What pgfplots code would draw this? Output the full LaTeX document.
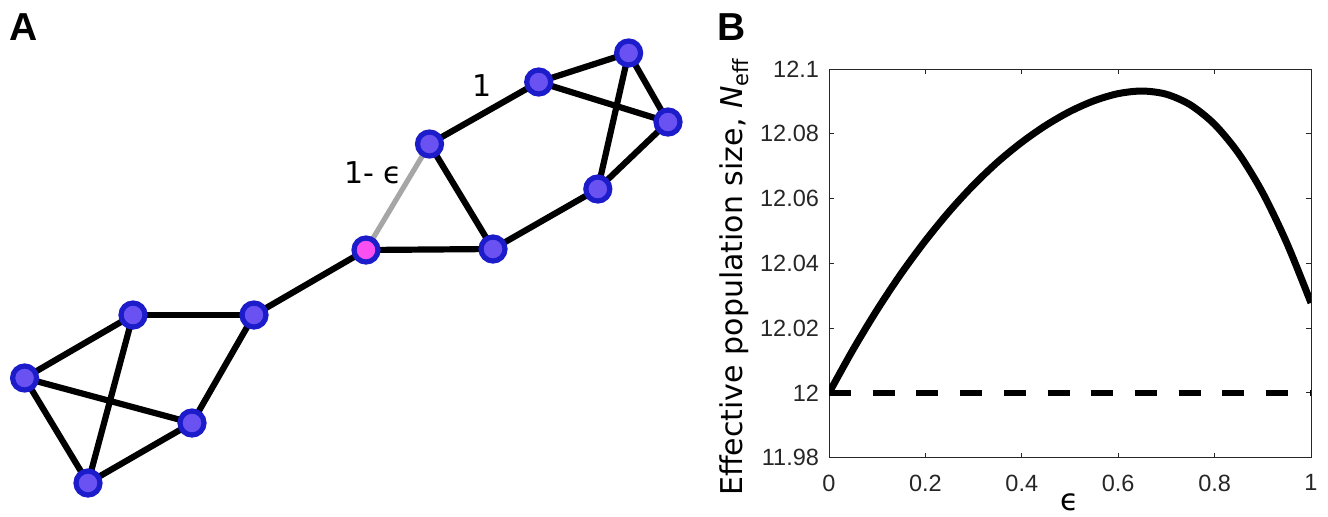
\documentclass[border=0pt]{standalone}
\usepackage{fontspec}
\setmainfont{DejaVu Sans}
\newfontfamily\tickfont{Liberation Sans}
\newfontfamily\labfont{Liberation Sans}
\usepackage{pgfplots}
\pgfplotsset{compat=1.18}
\definecolor{nodeblue}{HTML}{6A52F2}
\definecolor{nodeedge}{HTML}{1C1CCB}
\definecolor{nodemag}{HTML}{FA50F2}
\definecolor{axgray}{HTML}{262626}
\definecolor{edgegray}{HTML}{A6A6A6}
\begin{document}
\begin{tikzpicture}
\useasboundingbox (0,0) rectangle (664pt,258pt);
% ---------------- Panel A : network ----------------
\begin{axis}[at={(0pt,0pt)}, anchor=south west, scale only axis,
  width=664pt, height=258pt, xmin=0, xmax=1328, ymin=0, ymax=516,
  y dir=reverse, hide axis, clip=false]
\pgfplotsset{edge/.style={black, line width=3.1pt, forget plot}}
\addplot[edge] coordinates {(24.6,378) (133,315)};
\addplot[edge] coordinates {(24.6,378) (192,423)};
\addplot[edge] coordinates {(24.6,378) (88,483)};
\addplot[edge] coordinates {(88,483) (133,315)};
\addplot[edge] coordinates {(88,483) (192,423)};
\addplot[edge] coordinates {(133,315) (254,315)};
\addplot[edge] coordinates {(192,423) (254,315)};
\addplot[edge] coordinates {(254,315) (366,250)};
\addplot[edgegray, line width=2.6pt] coordinates {(366,250) (429.5,144)};
\addplot[edge] coordinates {(366,250) (493,249)};
\addplot[edge] coordinates {(429.5,144) (493,249)};
\addplot[edge] coordinates {(429.5,144) (538.7,82)};
\addplot[edge] coordinates {(493,249) (597.8,189)};
\addplot[edge] coordinates {(538.7,82) (628.6,53)};
\addplot[edge] coordinates {(538.7,82) (668,122)};
\addplot[edge] coordinates {(628.6,53) (668,122)};
\addplot[edge] coordinates {(628.6,53) (597.8,189)};
\addplot[edge] coordinates {(668,122) (597.8,189)};
\addplot[only marks, mark=*, mark size=6pt,
  mark options={draw=nodeedge, fill=nodeblue, line width=2.6pt}] coordinates {
  (24.6,378) (88,483) (133,315) (192,423) (254,315)
  (429.5,144) (493,249) (538.7,82) (597.8,189) (628.6,53) (668,122)};
\addplot[only marks, mark=*, mark size=6pt,
  mark options={draw=nodeedge, fill=nodemag, line width=2.6pt}] coordinates {(366,250)};
\node[anchor=base west, inner sep=0pt, font=\labfont\bfseries\fontsize{19.5}{23}\selectfont] at (axis cs:9,40) {A};
\node[anchor=base west, inner sep=0pt, font=\labfont\bfseries\fontsize{19.5}{23}\selectfont] at (axis cs:717,40) {B};
\node[anchor=base, inner sep=0pt, font=\fontsize{15}{18}\selectfont] at (axis cs:482,96) {1};
\node[anchor=base west, inner sep=0pt, font=\fontsize{15}{18}\selectfont] at (axis cs:344,183) {1- ϵ};
\end{axis}
% ---------------- Panel B : N_eff vs epsilon ----------------
\begin{axis}[at={(414.5pt,29.15pt)}, anchor=south west, scale only axis,
  width=241pt, height=194.35pt,
  xmin=0, xmax=1, ymin=11.98, ymax=12.1,
  xtick={0,0.2,0.4,0.6,0.8,1}, xticklabels={0,0.2,0.4,0.6,0.8,1},
  ytick={11.98,12,12.02,12.04,12.06,12.08,12.1},
  yticklabels={11.98,12,12.02,12.04,12.06,12.08,12.1},
  tick align=inside, major tick length=2.5pt,
  axis line style={axgray, line width=0.5pt},
  tick style={axgray, line width=0.5pt},
  ticklabel style={font=\tickfont\fontsize{11.75}{14}\selectfont, text=axgray},
  xticklabel style={yshift=-5pt},
  yticklabel style={xshift=-1.5pt},
  xlabel={ϵ}, ylabel={Effective population size, {\itshape N}\textsubscript{eff}},
  label style={font=\fontsize{15}{18}\selectfont},
  xlabel style={at={(axis description cs:0.5,-0.136)}, anchor=base},
  ylabel style={at={(axis description cs:-0.1805,0.465)}, anchor=base}]
\addplot[black, line width=3pt, dash pattern=on 11pt off 10.85pt] coordinates {(0,12) (1,12)};
\addplot[black, line width=3.5pt, smooth] coordinates {
(0,12.0000) (0.05,12.0134) (0.1,12.0257) (0.15,12.0369) (0.2,12.0470)
(0.25,12.0561) (0.3,12.0642) (0.35,12.0713) (0.4,12.0774) (0.45,12.0826)
(0.5,12.0869) (0.55,12.0902) (0.6,12.0924) (0.65,12.0932) (0.7,12.0922)
(0.75,12.0889) (0.8,12.0829) (0.85,12.0739) (0.9,12.0617) (0.95,12.0462)
(1.0,12.0278)};
\end{axis}
\end{tikzpicture}
\end{document}
